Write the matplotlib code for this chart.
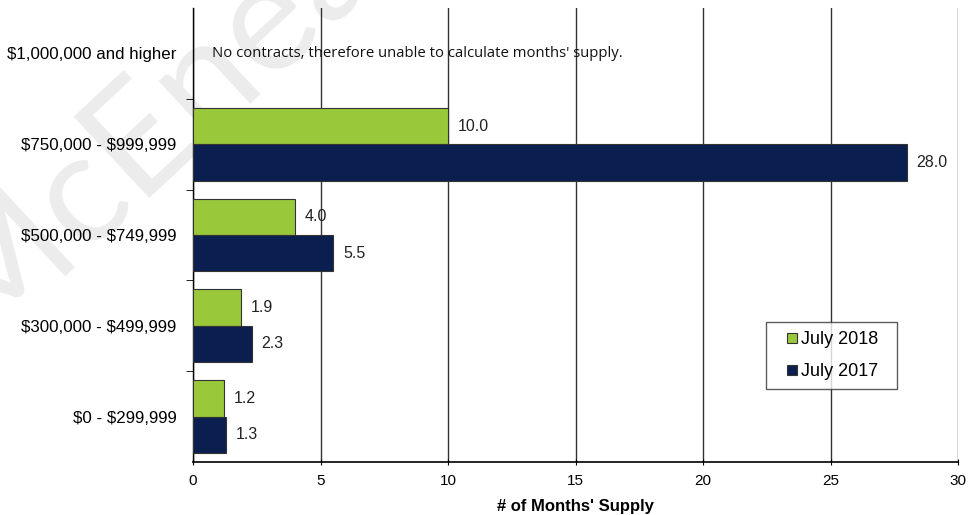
import matplotlib.pyplot as plt
import numpy as np
from matplotlib.legend_handler import HandlerPatch
from matplotlib.patches import Rectangle

plt.rcParams['font.family'] = ['Liberation Sans', 'DejaVu Sans']
plt.rcParams['text.parse_math'] = False

# Months' supply by price range (bottom to top)
price_ranges = ['$0 - $299,999', '$300,000 - $499,999', '$500,000 - $749,999',
                '$750,000 - $999,999', '$1,000,000 and higher']
supply_2018 = [1.2, 1.9, 4.0, 10.0, np.nan]
supply_2017 = [1.3, 2.3, 5.5, 28.0, np.nan]
series_names = ['July 2018', 'July 2017']
colors = ['#99c93b', '#0a1f4f']


def small_square(legend, orig_handle, xdescent, ydescent, width, height, fontsize):
    # square marker pushed to the right end of the handle box
    sq = 0.55 * fontsize
    return Rectangle((-xdescent + width - sq, -ydescent + (height - sq) / 2), sq, sq)


fig = plt.figure(figsize=(9.68, 5.15), dpi=100)

# light brand watermark across the upper left, behind the chart
fig.text(-0.005, 0.29, 'McEnearney', fontsize=112, family='Lato',
         color='#ececec', rotation=43, ha='left', va='bottom',
         zorder=-10, rotation_mode='anchor')

ax = fig.add_axes([193 / 968, 53 / 515, 765 / 968, 454 / 515])
ax.set_facecolor('none')

y = np.arange(len(price_ranges))
h = 0.4
b1 = ax.barh(y + h / 2, supply_2018, height=h, color=colors[0], edgecolor='#333333',
             linewidth=0.8, label=series_names[0], zorder=3)
b2 = ax.barh(y - h / 2, supply_2017, height=h, color=colors[1], edgecolor='#333333',
             linewidth=0.8, label=series_names[1], zorder=3)

for bars, vals in ((b1, supply_2018), (b2, supply_2017)):
    for bar, v in zip(bars, vals):
        if np.isnan(v):
            continue
        ax.text(v + 0.38, bar.get_y() + bar.get_height() / 2, f'{v:.1f}',
                va='center', ha='left', fontsize=11.5, color='#222222')

ax.text(0.75, 4.0, "No contracts, therefore unable to calculate months' supply.",
        va='center', ha='left', fontsize=10.7, family='Open Sans', color='#111111')

ax.set_xlim(0, 30)
ax.set_ylim(-0.5, 4.5)
ax.set_xticks(np.arange(0, 31, 5))
ax.set_yticks(y)
ax.set_yticklabels(price_ranges, fontsize=12.2)
ax.set_yticks(np.arange(0.5, 4.5, 1), minor=True)
ax.tick_params(axis='y', which='major', length=0, pad=12)
ax.tick_params(axis='y', which='minor', length=5, direction='out')
ax.tick_params(axis='x', length=5, direction='inout', labelsize=11, pad=6)

ax.grid(axis='x', color='#333333', linewidth=1.0, zorder=1)
for side in ('top', 'right'):
    ax.spines[side].set_visible(False)
ax.spines['left'].set_linewidth(1.0)
ax.spines['bottom'].set_linewidth(1.2)
ax.set_axisbelow(True)

ax.set_xlabel("# of Months' Supply", fontsize=12, fontweight='bold', labelpad=8)

leg = ax.legend([b1.patches[0], b2.patches[0]], [name + '  ' for name in series_names],
                loc='lower right', bbox_to_anchor=(0.92, 0.161), fontsize=13,
                frameon=True, fancybox=False, edgecolor='#333333',
                handler_map={Rectangle: HandlerPatch(patch_func=small_square)},
                handlelength=1.2, handleheight=0.7, handletextpad=0.2,
                labelspacing=0.8, borderpad=0.5, borderaxespad=0)
leg.get_frame().set_linewidth(1.0)
leg.set_zorder(5)

fig.savefig('out.png', dpi=100)
